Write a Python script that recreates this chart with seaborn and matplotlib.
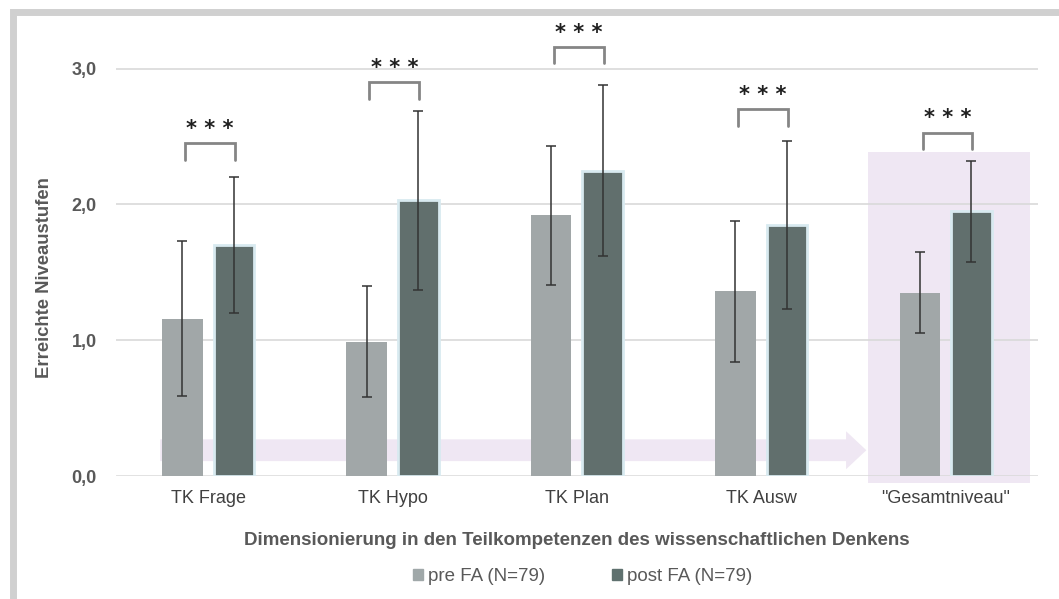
import pandas as pd
import matplotlib.pyplot as plt
import matplotlib.patches as mpatches
import numpy as np
import seaborn as sns

# values
categories = ["TK Frage", "TK Hypo", "TK Plan", "TK Ausw", "\"Gesamtniveau\""]
pre_mean = [1.16, 0.99, 1.92, 1.36, 1.35]
pre_sd = [0.57, 0.41, 0.51, 0.52, 0.30]
post_mean = [1.70, 2.03, 2.25, 1.85, 1.95]
post_sd = [0.50, 0.66, 0.63, 0.62, 0.37]
bracket_top = [2.45, 2.90, 3.16, 2.70, 2.53]
groups = ["pre FA (N=79)", "post FA (N=79)"]

df = pd.DataFrame({
    "kategorie": categories * 2,
    "gruppe": [groups[0]] * 5 + [groups[1]] * 5,
    "wert": pre_mean + post_mean,
    "sd": pre_sd + post_sd,
})

pre_col = "#A0A8A9"
post_col = "#5F716F"
txt_col = "#595959"

sns.set_style("white")
plt.rcParams["font.family"] = ["Liberation Sans", "DejaVu Sans"]

fig = plt.figure(figsize=(10.59, 5.99), dpi=100)
ax = fig.add_axes([0.1095, 0.2053, 0.8705, 0.748])

# background decorations: arrow band and highlight box
ax.add_patch(mpatches.FancyArrow(-0.26, 0.19, 3.83, 0, width=0.16, head_width=0.28,
                                 head_length=0.11, length_includes_head=True,
                                 color="#EFE7F3", lw=0, zorder=0))
ax.add_patch(mpatches.Rectangle((3.58, -0.05), 0.88, 2.44, color="#EFE7F3", lw=0,
                                zorder=0, clip_on=False))

for y in [1, 2, 3]:
    ax.axhline(y, color="#D9D9D9", lw=1.2, zorder=0.5)
ax.axhline(0, color="#D9D9D9", lw=1.8, zorder=0.5)

sns.barplot(data=df, x="kategorie", y="wert", hue="gruppe", palette=[pre_col, post_col],
            width=0.56, gap=0.214, ax=ax, legend=False, zorder=2)

# bars: first 5 patches pre, next 5 post
bars = [p for p in ax.patches if isinstance(p, mpatches.Rectangle) and p.get_zorder() == 2]
for i, p in enumerate(bars):
    if i >= 5:
        p.set_edgecolor("#D8EAF0")
        p.set_linewidth(2)
    else:
        p.set_edgecolor("none")

xs = [p.get_x() + p.get_width() / 2 for p in bars]
means = pre_mean + post_mean
sds = pre_sd + post_sd
ax.errorbar(xs, means, yerr=sds, fmt="none", ecolor="#333333", elinewidth=1.1,
            capsize=3.5, capthick=1.1, zorder=3)

# significance brackets
for i in range(5):
    x1 = xs[i] + 0.015
    x2 = xs[i + 5] + 0.005
    top = bracket_top[i]
    ax.plot([x1, x1, x2, x2], [top - 0.12, top, top, top - 0.12], color="#858585",
            lw=2, zorder=3, clip_on=False, solid_joinstyle="miter")
    ax.text((x1 + x2) / 2, top + 0.03, "* * *", ha="center", va="bottom",
            fontsize=15, fontweight="heavy", color="#1F1F1F", clip_on=False,
            family="DejaVu Sans")

ax.set_xlim(-0.5, 4.5)
ax.set_ylim(0, 3.3)
ax.set_yticks([0, 1, 2, 3])
ax.set_yticklabels(["0,0", "1,0", "2,0", "3,0"], fontsize=13, fontweight="bold",
                   color=txt_col)
ax.set_xticks(range(5))
ax.set_xticklabels(categories, fontsize=13, color="#404040")
ax.tick_params(axis="x", length=0, pad=10)
ax.tick_params(axis="y", length=0, pad=14)
sns.despine(ax=ax, left=True, bottom=True)
ax.set_xlabel("Dimensionierung in den Teilkompetenzen des wissenschaftlichen Denkens",
              fontsize=13.5, fontweight="bold", color=txt_col, labelpad=18)
ax.set_ylabel("Erreichte Niveaustufen", fontsize=13.3, fontweight="bold", color=txt_col,
              labelpad=14)
ax.yaxis.set_label_coords(-0.068, 0.442)

handles = [mpatches.Patch(color=pre_col), mpatches.Patch(color=post_col)]
fig.legend(handles, groups, loc="lower center", bbox_to_anchor=(0.55, -0.005), ncol=2,
           frameon=False, fontsize=13.5, handlelength=0.55, handleheight=0.55,
           handletextpad=0.25, columnspacing=3.6, labelcolor=txt_col)

# gray frame around the figure
fig.patches.append(mpatches.Rectangle((0.012, -0.1), 1.2, 1.08, transform=fig.transFigure,
                                      fill=False, edgecolor="#D0D0D0", lw=5))

fig.savefig("out.png", dpi=100)
